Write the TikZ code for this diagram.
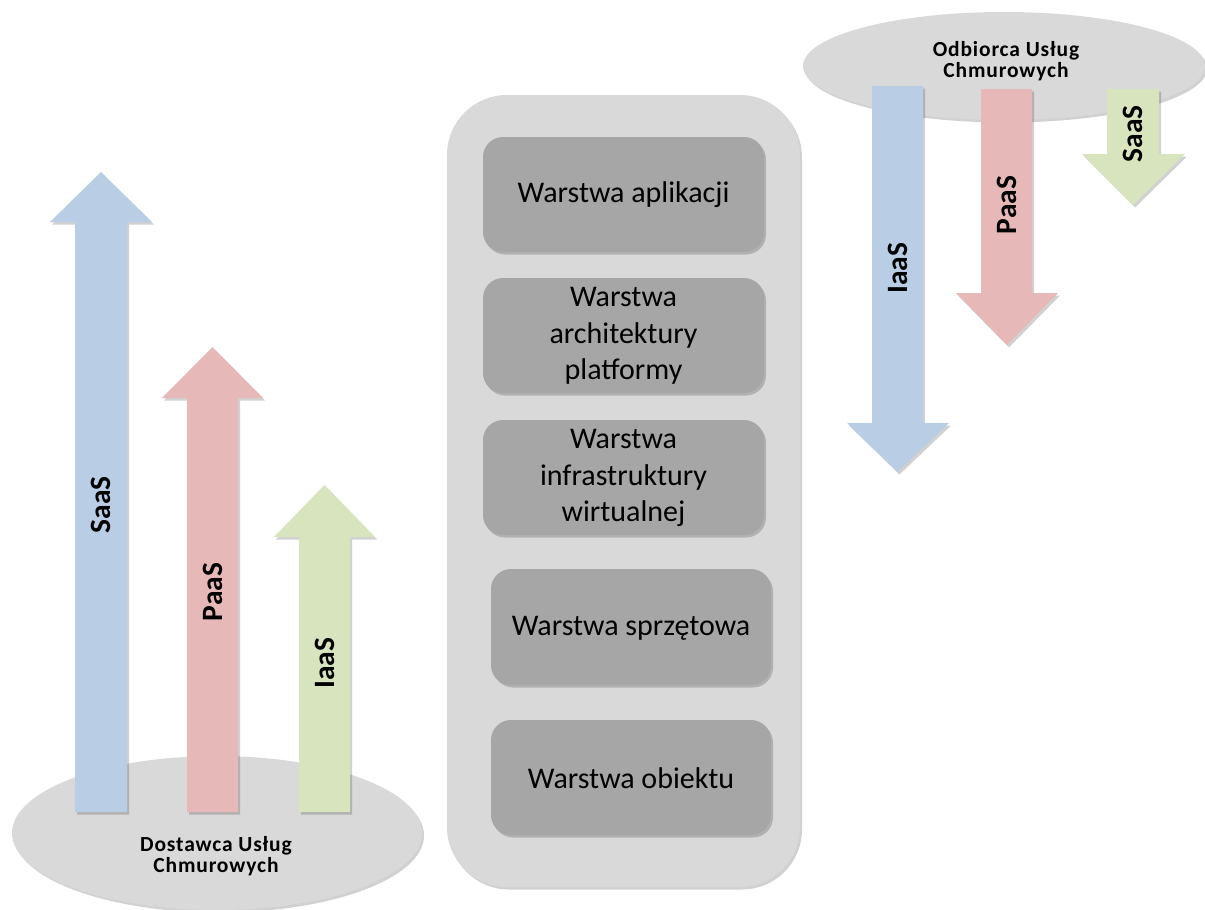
\documentclass[tikz,border=0pt]{standalone}
\usepackage{fontspec}
\setmainfont{Carlito}
\usetikzlibrary{shadows}
\definecolor{cblue}{HTML}{B9CDE5}
\definecolor{cpink}{HTML}{E6B9B8}
\definecolor{cgreen}{HTML}{D7E4BD}
\definecolor{clight}{HTML}{D9D9D9}
\definecolor{cdark}{HTML}{A6A6A6}
\newfontfamily\ellfont[LetterSpace=4]{Carlito}
\tikzset{
  shad/.style={drop shadow={shadow xshift=2pt, shadow yshift=-2.5pt, fill=black, opacity=0.18}},
  blockarrow/.style={shad, draw=none},
  baseell/.style={shad, draw=none, fill=clight},
  ellabel/.style={font=\ellfont\bfseries\fontsize{21.5}{21}\selectfont, align=center},
  arrlabel/.style={rotate=90, font=\bfseries\fontsize{29.5}{29.5}\selectfont},
  panel/.style={shad, draw=none, fill=clight, rounded corners=60pt},
  layerbox/.style={shad, draw=none, fill=cdark, rounded corners=20pt},
  layertext/.style={font=\fontsize{30}{36.5}\selectfont, align=center},
}
\begin{document}
\begin{tikzpicture}[x=1pt,y=-1pt]
\useasboundingbox (0,0) rectangle (1205,910);
\fill[white] (0,0) rectangle (1205,910);

% ---------- left: provider ----------
\fill[baseell] (217,833) ellipse [x radius=205, y radius=77];
\node[ellabel] (prov) at (216,856) {Dostawca Usług\\Chmurowych};

% up arrows
\fill[blockarrow, fill=cblue] (75,812) -- (75,222) -- (50,222) -- (101,172) -- (152,222) -- (127,222) -- (127,812) -- cycle;
\fill[blockarrow, fill=cpink] (187,812) -- (187,398) -- (162,398) -- (212.5,347) -- (263,398) -- (238,398) -- (238,812) -- cycle;
\fill[blockarrow, fill=cgreen] (299,812) -- (299,537) -- (274,537) -- (324.5,485) -- (375,537) -- (350,537) -- (350,812) -- cycle;
\node[arrlabel] (lsaas) at (101,505) {SaaS};
\node[arrlabel] (lpaas) at (212.5,592) {PaaS};
\node[arrlabel] (liaas) at (324.5,663) {IaaS};

% ---------- centre: layers ----------
\fill[panel] (447,95) rectangle (800,887);
\fill[layerbox] (483,137) rectangle (764,252);
\fill[layerbox] (483,278) rectangle (764,393);
\fill[layerbox] (483,420) rectangle (764,535);
\fill[layerbox] (491,569) rectangle (771,685);
\fill[layerbox] (491,720) rectangle (771,835);
\node[layertext] (l1) at (623.5,195) {Warstwa aplikacji};
\node[layertext] (l2) at (623.5,336) {Warstwa\\architektury\\platformy};
\node[layertext] (l3) at (623.5,478) {Warstwa\\infrastruktury\\wirtualnej};
\node[layertext] (l4) at (631,628) {Warstwa sprzętowa};
\node[layertext] (l5) at (631,778) {Warstwa obiektu};

% ---------- right: consumer ----------
\fill[baseell] (1004,66) ellipse [x radius=201, y radius=54];

% down arrows
\fill[blockarrow, fill=cblue] (872,86) -- (872,423) -- (847,423) -- (897.5,472) -- (949,423) -- (923,423) -- (923,86) -- cycle;
\fill[blockarrow, fill=cpink] (981,89) -- (981,293) -- (956,293) -- (1007,345) -- (1058,293) -- (1032,293) -- (1032,89) -- cycle;
\fill[blockarrow, fill=cgreen] (1107,89) -- (1107,154) -- (1082,154) -- (1133,205) -- (1185,154) -- (1159,154) -- (1159,89) -- cycle;
\node[ellabel] (cons) at (1006,61) {Odbiorca Usług\\Chmurowych};
\node[arrlabel] (riaas) at (898,268) {IaaS};
\node[arrlabel] (rpaas) at (1007,205) {PaaS};
\node[arrlabel] (rsaas) at (1133,134) {SaaS};
\end{tikzpicture}
\end{document}
